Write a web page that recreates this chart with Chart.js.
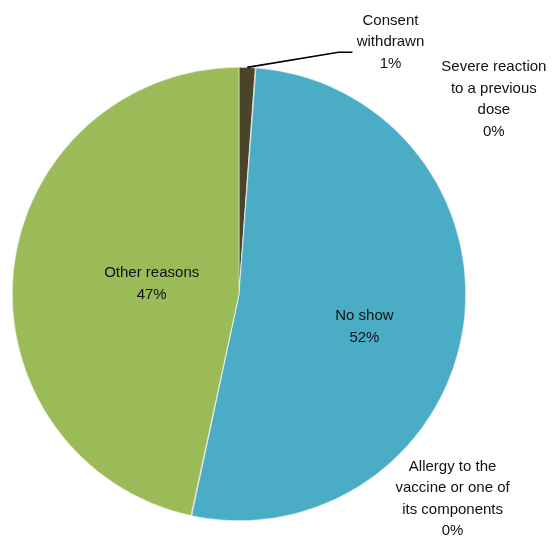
<!DOCTYPE html>
<html>
<head>
<meta charset="utf-8">
<script src="https://cdn.jsdelivr.net/npm/chart.js@4"></script>
<style>
  html, body { margin: 0; padding: 0; background: #fff; }
  #wrap { width: 558px; height: 537px; }
</style>
</head>
<body>
<div id="wrap"><canvas id="reasonsChart"></canvas></div>
<script>
// reasons for not receiving the dose (share of total, %)
const reasons = [
  ['Consent', 'withdrawn'],
  ['Severe reaction', 'to a previous', 'dose'],
  ['No show'],
  ['Allergy to the', 'vaccine or one of', 'its components'],
  ['Other reasons']
];
const shares = [1.15, 0.05, 52.15, 0.05, 46.6];
const shareLabels = ['1%', '0%', '52%', '0%', '47%'];
const sliceColors = ['#4a442a', '#c0504d', '#4bacc6', '#8064a2', '#9bbb59'];

// label anchors, in units of the pie radius from its centre
const labelSpots = [
  { dx: 0.668, dy: -1.11, leader: true },
  { dx: 1.124, dy: -0.858 },
  { dx: 0.553, dy: 0.146 },
  { dx: 0.942, dy: 0.903 },
  { dx: -0.385, dy: -0.044 }
];

const sliceLabels = {
  id: 'sliceLabels',
  afterDatasetsDraw(chart) {
    const ctx = chart.ctx;
    const arcs = chart.getDatasetMeta(0).data;
    const cx = arcs[0].x, cy = arcs[0].y, r = arcs[0].outerRadius;
    const lh = 21.5;
    ctx.save();
    ctx.font = '15px "Liberation Sans", Arial, sans-serif';
    ctx.fillStyle = '#111';
    ctx.textAlign = 'center';
    ctx.textBaseline = 'middle';
    reasons.forEach((lines, i) => {
      const spot = labelSpots[i];
      const all = lines.concat([shareLabels[i]]);
      const x = cx + spot.dx * r;
      const y = cy + spot.dy * r;
      const top = y - (all.length - 1) * lh / 2;
      all.forEach((t, k) => ctx.fillText(t, x, top + k * lh));
      if (spot.leader) {
        const a = arcs[i];
        const mid = (a.startAngle + a.endAngle) / 2;
        const sx = cx + Math.cos(mid) * r;
        const sy = cy + Math.sin(mid) * r;
        const ex = x - 38, ey = y + 10;
        ctx.beginPath();
        ctx.moveTo(sx, sy);
        ctx.lineTo(ex - 14, ey);
        ctx.lineTo(ex, ey);
        ctx.strokeStyle = '#000';
        ctx.lineWidth = 1.6;
        ctx.stroke();
      }
    });
    ctx.restore();
  }
};

new Chart(document.getElementById('reasonsChart'), {
  type: 'pie',
  data: {
    labels: reasons.map(l => l.join(' ')),
    datasets: [{
      data: shares,
      backgroundColor: sliceColors,
      borderColor: '#ffffff',
      borderWidth: 0.5
    }]
  },
  options: {
    responsive: true,
    maintainAspectRatio: false,
    animation: false,
    layout: { padding: { left: 12, right: 92, top: 67, bottom: 16 } },
    plugins: {
      legend: { display: false },
      tooltip: { enabled: false }
    }
  },
  plugins: [sliceLabels]
});
</script>
</body>
</html>
